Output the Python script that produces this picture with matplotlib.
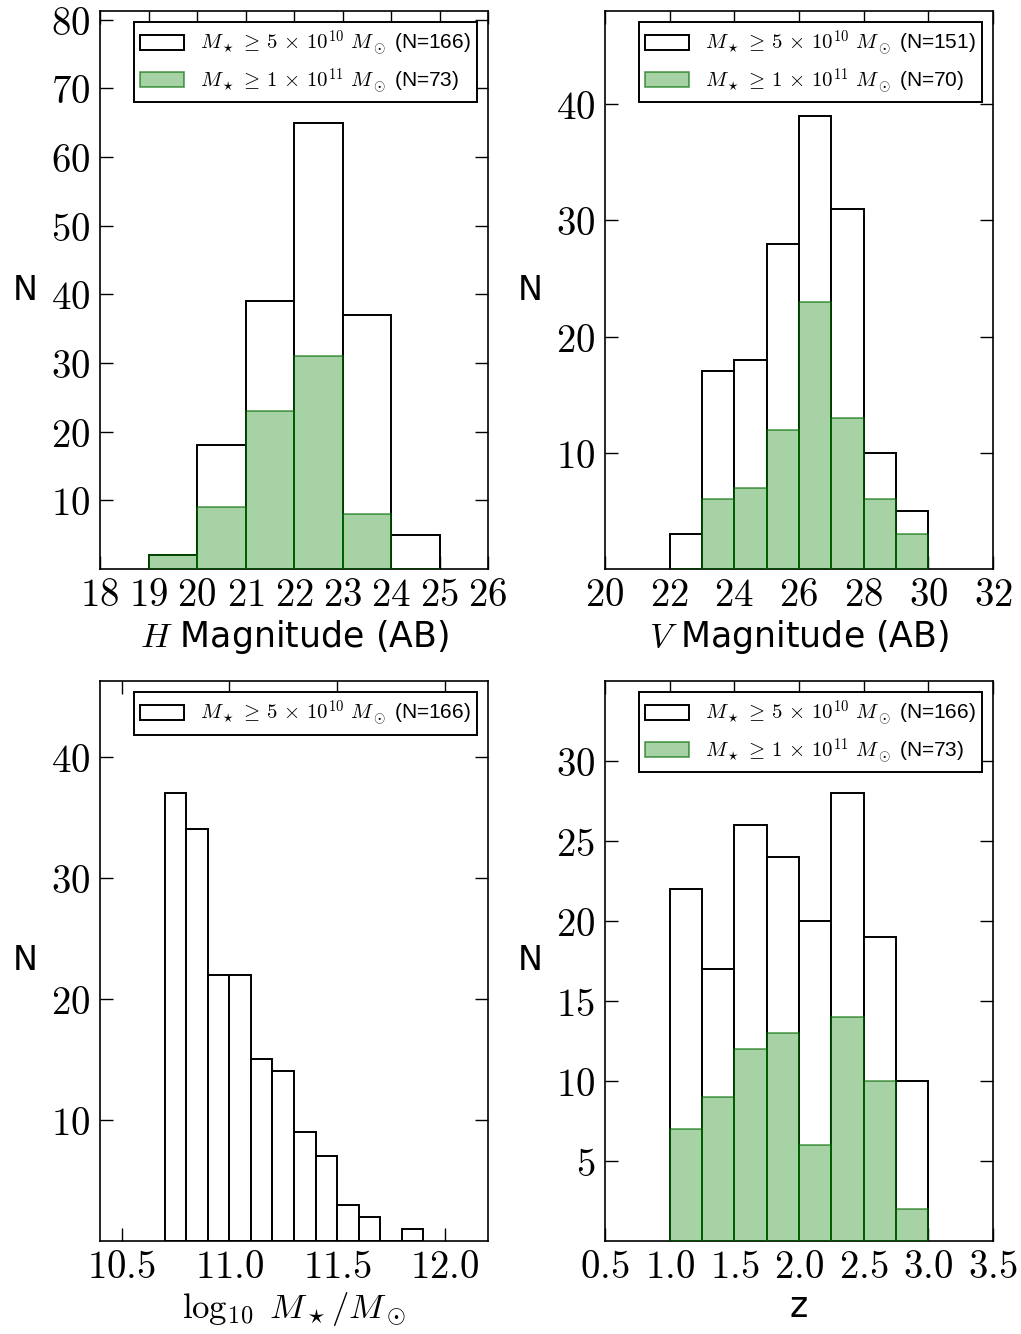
import numpy as np
import matplotlib
matplotlib.use('Agg')
from matplotlib import pyplot as plt
from matplotlib.ticker import FixedLocator, FuncFormatter

plt.rcParams['mathtext.fontset'] = 'cm'
plt.rcParams['font.family'] = ['DejaVu Sans']

# H magnitude histogram (bin width 1)
h_edges = [19, 20, 21, 22, 23, 24, 25]
h_all = [2, 18, 39, 65, 37, 5]
h_massive = [2, 9, 23, 31, 8, 0]

# V magnitude histogram
v_edges = [22, 23, 24, 25, 26, 27, 28, 29, 30]
v_all = [3, 17, 18, 28, 39, 31, 10, 5]
v_massive = [0, 6, 7, 12, 23, 13, 6, 3]

# stellar mass histogram
m_edges = [10.7, 10.8, 10.9, 11.0, 11.1, 11.2, 11.3, 11.4, 11.5, 11.6, 11.7, 11.8, 11.9]
m_all = [37, 34, 22, 22, 15, 14, 9, 7, 3, 2, 0, 1]

# redshift histogram
z_edges = [1.0, 1.25, 1.5, 1.75, 2.0, 2.25, 2.5, 2.75, 3.0]
z_all = [22, 17, 26, 24, 20, 28, 19, 10]
z_massive = [7, 9, 12, 13, 6, 14, 10, 2]

lab_all = r'$M_\star \,\geq\, 5 \,\times\, 10^{10}\ M_\odot$ (N=%d)'
lab_massive = r'$M_\star \,\geq\, 1 \,\times\, 10^{11}\ M_\odot$ (N=%d)'

fig = plt.figure(figsize=(10.21, 13.34), dpi=100)
W, H = 1021.0, 1334.0
def make_ax(x0, y0, x1, y1):
    return fig.add_axes([x0 / W, 1 - y1 / H, (x1 - x0) / W, (y1 - y0) / H])

axes = [make_ax(100, 11, 488, 569), make_ax(605, 11, 993, 569),
        make_ax(100, 681, 488, 1241), make_ax(605, 681, 993, 1241)]


def hist(ax, edges, counts, massive=None):
    edges = np.array(edges)
    widths = np.diff(edges)
    ax.bar(edges[:-1], counts, width=widths, align='edge', facecolor='white',
           edgecolor='black', linewidth=1.4, label=lab_all % sum(counts), zorder=2)
    if massive is not None:
        ax.bar(edges[:-1], massive, width=widths, align='edge',
               facecolor=(0, 0.5, 0, 0.35), edgecolor=(0, 0.42, 0, 0.65),
               linewidth=1.2, label=lab_massive % sum(massive), zorder=3)
    leg = ax.legend(loc='upper right', prop={'family': 'Liberation Sans', 'size': 15},
                    frameon=True, fancybox=False, edgecolor='black', framealpha=1,
                    borderaxespad=0.55, handlelength=2.1, handleheight=0.75,
                    labelspacing=0.35, borderpad=0.3, handletextpad=0.75)
    leg.get_frame().set_linewidth(1.4)


def style(ax, xlim, ylim, xticks, yticks, xfmt, xlabel):
    ax.set_xlim(*xlim)
    ax.set_ylim(*ylim)
    ax.xaxis.set_major_locator(FixedLocator(xticks))
    ax.yaxis.set_major_locator(FixedLocator(yticks))
    ax.xaxis.set_major_formatter(FuncFormatter(lambda v, p: '$' + (xfmt % v) + '$'))
    ax.yaxis.set_major_formatter(FuncFormatter(lambda v, p: '$%d$' % v))
    ax.tick_params(direction='in', top=True, right=True, length=9.5, width=1,
                   labelsize=28)
    ax.tick_params(axis='x', pad=5)
    ax.tick_params(axis='y', pad=7)
    for s in ax.spines.values():
        s.set_linewidth(1.2)
    ax.set_ylabel('N', fontsize=24, rotation=0)
    ax.yaxis.set_label_coords(-0.193, 0.5)
    ax.yaxis.label.set_va('center')
    ax.set_xlabel(xlabel, fontsize=25, labelpad=3)


hist(axes[0], h_edges, h_all, h_massive)
style(axes[0], (18, 26), (0, 81.25), range(18, 27), range(10, 81, 10), '%d',
      r'$H$ Magnitude (AB)')

hist(axes[1], v_edges, v_all, v_massive)
style(axes[1], (20, 32), (0, 48), range(20, 33, 2), range(10, 41, 10), '%d',
      r'$V$ Magnitude (AB)')

hist(axes[2], m_edges, m_all)
style(axes[2], (10.4, 12.2), (0, 46.25), [10.5, 11.0, 11.5, 12.0], range(10, 41, 10),
      '%.1f', r'$\log_{10}\ M_\star/M_\odot$')
axes[2].xaxis.label.set_fontsize(25)

hist(axes[3], z_edges, z_all, z_massive)
style(axes[3], (0.5, 3.5), (0, 35), np.arange(0.5, 3.51, 0.5), range(5, 31, 5),
      '%.1f', 'z')

fig.savefig('out.png', dpi=100)
